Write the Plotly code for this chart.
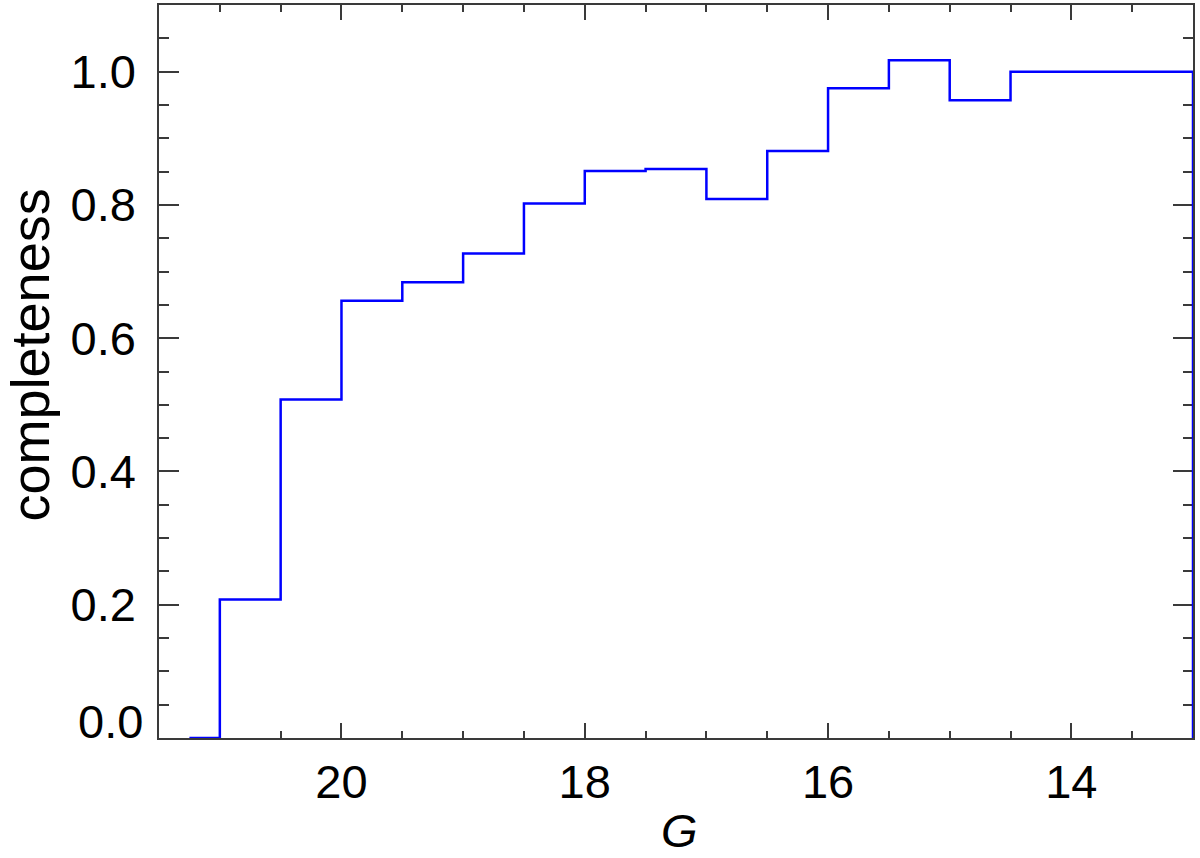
import plotly.graph_objects as go

# bin centres (G magnitude) and completeness values (histogram, step drawn between centres)
g_centres = [21.25, 20.75, 20.25, 19.75, 19.25, 18.75, 18.25, 17.75, 17.25,
             16.75, 16.25, 15.75, 15.25, 14.75, 14.25, 13.75, 13.25, 12.75]
completeness = [0.0, 0.208, 0.508, 0.656, 0.684, 0.727, 0.802, 0.851, 0.854,
                0.809, 0.881, 0.975, 1.017, 0.957, 1.0, 1.0, 1.0, 0.0]

y_tickvals = [0.0, 0.2, 0.4, 0.6, 0.8, 1.0]
y_ticktext = ["", "0.2", "0.4", "0.6", "0.8", "1.0"]
x_tickvals = [20, 18, 16, 14]
x_ticktext = ["20", "18", "16", "14"]

FONT = "Liberation Sans, Arial, Helvetica, sans-serif"
AXC = "#3a3a3a"

fig = go.Figure()
fig.add_trace(go.Scatter(
    x=g_centres, y=completeness, mode="lines",
    line=dict(color="#0000ff", width=2.5, shape="hvh"),
    showlegend=False, hoverinfo="skip",
))

fig.update_layout(
    width=1200, height=858,
    margin=dict(l=159, r=7, t=5, b=120, autoexpand=False),
    paper_bgcolor="white", plot_bgcolor="white",
    font=dict(family=FONT, size=47, color="black"),
    showlegend=False,
)

fig.update_xaxes(
    range=[21.5, 13.0], automargin=False, layer="below traces",
    tickvals=x_tickvals, ticktext=x_ticktext,
    ticks="inside", ticklen=15, tickwidth=1.5, tickcolor=AXC,
    minor=dict(ticks="inside", dtick=0.5, tick0=0, ticklen=7, tickwidth=1.5, tickcolor=AXC),
    showline=True, linecolor=AXC, linewidth=1.5, mirror="allticks",
    showgrid=False, zeroline=False,
    tickfont=dict(family=FONT, size=47, color="black"),
    ticklabelstandoff=2,
)
fig.update_yaxes(
    range=[0, 1.1], automargin=False, layer="below traces",
    tickvals=y_tickvals, ticktext=y_ticktext,
    ticks="inside", ticklen=20, tickwidth=1.5, tickcolor=AXC,
    minor=dict(ticks="inside", dtick=0.05, tick0=0, ticklen=10, tickwidth=1.5, tickcolor=AXC),
    showline=True, linecolor=AXC, linewidth=1.5, mirror="allticks",
    showgrid=False, zeroline=False,
    tickfont=dict(family=FONT, size=47, color="black"),
    ticklabelstandoff=12,
)

# bottom y label is lifted above the x axis
fig.add_annotation(
    x=0, xref="paper", y=0, yref="y", text="0.0", showarrow=False,
    xanchor="right", yanchor="middle", xshift=-14, yshift=17,
    font=dict(family=FONT, size=47, color="black"),
)
# axis titles
fig.add_annotation(
    x=0.5, xref="paper", y=0, yref="paper", text="<i>G</i>", showarrow=False,
    xanchor="center", yanchor="middle", xshift=3, yshift=-92,
    font=dict(family=FONT, size=47, color="black"),
)
fig.add_annotation(
    x=0, xref="paper", y=0.5, yref="paper", text="completeness", showarrow=False,
    textangle=-90, xanchor="center", yanchor="middle", xshift=-130, yshift=16,
    font=dict(family=FONT, size=54, color="black"),
)

fig.write_html(
    "out.html",
    config={"displayModeBar": False},
    post_script="document.body.style.margin='0';document.body.style.overflow='hidden';",
)
